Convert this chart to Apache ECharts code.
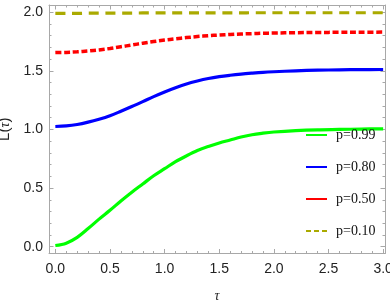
<!DOCTYPE html>
<html>
<head>
<meta charset="utf-8">
<script src="https://cdn.jsdelivr.net/npm/echarts@6/dist/echarts.min.js"></script>
<style>
html,body{margin:0;padding:0;background:#fff;}
#chart{width:390px;height:308px;}
</style>
</head>
<body>
<div id="chart"></div>
<script>
// tau sample points
var tau = [0,0.1,0.2,0.3,0.4,0.5,0.6,0.7,0.8,0.9,1.0,1.1,1.2,1.3,1.4,1.5,1.6,1.7,1.8,1.9,2.0,2.2,2.4,2.6,2.8,3.0];
// series values
var p099 = [0.01,0.03,0.08,0.155,0.235,0.31,0.39,0.465,0.535,0.605,0.665,0.725,0.775,0.82,0.855,0.885,0.91,0.935,0.955,0.968,0.978,0.99,0.997,1.0,1.003,1.005];
var p080 = [1.025,1.03,1.042,1.062,1.087,1.117,1.155,1.195,1.237,1.28,1.32,1.356,1.388,1.413,1.434,1.45,1.462,1.472,1.48,1.487,1.492,1.5,1.505,1.508,1.51,1.511];
var p050 = [1.655,1.657,1.662,1.669,1.678,1.69,1.705,1.72,1.735,1.749,1.762,1.773,1.783,1.792,1.799,1.805,1.81,1.814,1.817,1.82,1.822,1.825,1.827,1.828,1.829,1.83];
var p010 = [1.99,1.99,1.99,1.991,1.991,1.992,1.992,1.992,1.993,1.993,1.993,1.993,1.994,1.994,1.994,1.994,1.994,1.994,1.995,1.995,1.995,1.995,1.995,1.995,1.995,1.995];
var names = ['p=0.99','p=0.80','p=0.50','p=0.10'];
// tick values
var xMajor = [0,0.5,1.0,1.5,2.0,2.5,3.0];
var yMajor = [0,0.5,1.0,1.5,2.0];
var xMinor = [0,0.1,0.2,0.3,0.4,0.5,0.6,0.7,0.8,0.9,1.0,1.1,1.2,1.3,1.4,1.5,1.6,1.7,1.8,1.9,2.0,2.1,2.2,2.3,2.4,2.5,2.6,2.7,2.8,2.9,3.0];
var yMinor = [0,0.1,0.2,0.3,0.4,0.5,0.6,0.7,0.8,0.9,1.0,1.1,1.2,1.3,1.4,1.5,1.6,1.7,1.8,1.9,2.0];

function pairs(v){ return tau.map(function(t,i){ return [t, v[i]]; }); }

var frame = '#a8a8a8';
var XMIN = -0.058, XMAX = 3.017, YMIN = -0.058, YMAX = 2.061;

function xAx(pos, major, labels){
  return {
    type:'value', position:pos, min:XMIN, max:XMAX,
    splitLine:{show:false},
    axisLine:{show:major, onZero:false, lineStyle:{color:frame,width:1}},
    axisTick:{show:true, inside:true, length: major?4.5:2.5, customValues: major?xMajor:xMinor, lineStyle:{color:frame,width:1}},
    axisLabel:{show:labels, customValues:xMajor, margin:9, color:'#222', fontFamily:'Liberation Sans', fontSize:14,
      formatter:function(v){return v.toFixed(1);}},
    name: labels ? 'τ' : '', nameLocation:'middle', nameGap:36,
    nameTextStyle:{fontFamily:'Liberation Serif', fontStyle:'italic', fontSize:14, color:'#222'}
  };
}
function yAx(pos, major, labels){
  return {
    type:'value', position:pos, min:YMIN, max:YMAX,
    splitLine:{show:false},
    axisLine:{show:major, onZero:false, lineStyle:{color:frame,width:1}},
    axisTick:{show:true, inside:true, length: major?4.5:2.5, customValues: major?yMajor:yMinor, lineStyle:{color:frame,width:1}},
    axisLabel:{show:labels, customValues:yMajor, margin:6, color:'#222', fontFamily:'Liberation Sans', fontSize:14,
      formatter:function(v){return v.toFixed(1);}},
    name: labels ? 'L({i|τ})' : '', nameLocation:'middle', nameGap:30,
    nameTextStyle:{fontFamily:'Liberation Sans', fontSize:15, color:'#222',
      rich:{i:{fontFamily:'Liberation Serif', fontStyle:'italic', fontSize:14, color:'#222'}}}
  };
}

var chart = echarts.init(document.getElementById('chart'), null, {renderer:'canvas'});
chart.setOption({
  animation:false,
  grid:{left:49, right:5, top:5, bottom:54.5, containLabel:false, outerBoundsMode:'none'},
  xAxis:[xAx('bottom',true,true), xAx('top',true,false), xAx('bottom',false,false), xAx('top',false,false)],
  yAxis:[yAx('left',true,true), yAx('right',true,false), yAx('left',false,false), yAx('right',false,false)],
  legend:{
    orient:'vertical', left:305, top:128, padding:0, itemWidth:21, itemHeight:14, itemGap:18,
    itemStyle:{opacity:0},
    textStyle:{fontFamily:'Liberation Serif', fontSize:14, color:'#111', padding:[0,0,0,4]},
    data:[
      {name:names[0]},
      {name:names[1]},
      {name:names[2], lineStyle:{type:'solid'}},
      {name:names[3], lineStyle:{type:[5,3]}}
    ]
  },
  series:[
    {name:names[3], type:'line', data:pairs(p010), smooth:0.35, symbol:'none', color:'#aaaa00',
      lineStyle:{width:3.2, type:[10,6.7], color:'#aaaa00'}},
    {name:names[2], type:'line', data:pairs(p050), smooth:0.35, symbol:'none', color:'#ff0000',
      lineStyle:{width:3.5, type:[6,2.7], color:'#ff0000'}},
    {name:names[1], type:'line', data:pairs(p080), smooth:0.35, symbol:'none', color:'#0000ff',
      lineStyle:{width:3.2, color:'#0000ff'}},
    {name:names[0], type:'line', data:pairs(p099), smooth:0.35, symbol:'none', color:'#00ff00',
      lineStyle:{width:3.2, color:'#00ff00'}}
  ]
});
</script>
</body>
</html>
